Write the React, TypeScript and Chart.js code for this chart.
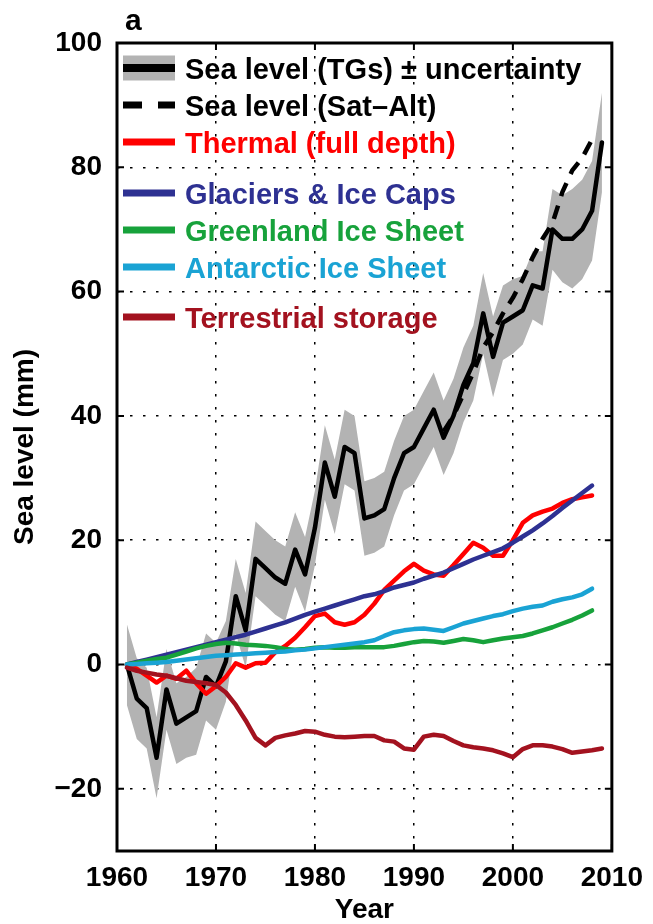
import React, { useEffect, useRef } from 'react';
import { Chart, registerables } from 'chart.js';

Chart.register(...registerables);

// ---------- data ----------
const YEARS = [
  1961, 1962, 1963, 1964, 1965, 1966, 1967, 1968, 1969, 1970,
  1971, 1972, 1973, 1974, 1975, 1976, 1977, 1978, 1979, 1980,
  1981, 1982, 1983, 1984, 1985, 1986, 1987, 1988, 1989, 1990,
  1991, 1992, 1993, 1994, 1995, 1996, 1997, 1998, 1999, 2000,
  2001, 2002, 2003, 2004, 2005, 2006, 2007, 2008,
];
const YEARS_EXT = [...YEARS, 2009];
const SAT_YEARS = [1993, 1994, 1995, 1996, 1997, 1998, 1999, 2000, 2001, 2002, 2003, 2004, 2005, 2006, 2007, 2008];

const SEA_LEVEL_TG = [
  0, -5.5, -7, -15, -4, -9.5, -8.5, -7.5, -2, -3.5,
  0.5, 11, 5.5, 17, 15.5, 14, 13, 18.5, 14.5, 22,
  32.5, 27, 35, 34, 23.5, 24, 25, 30, 34, 35,
  38, 41, 36.5, 40, 45, 48.5, 56.5, 49.5, 55, 56,
  57, 61, 60.5, 70, 68.5, 68.5, 70, 73, 84,
];
const SEA_LEVEL_TG_UNC = [
  6.5, 6.5, 6.5, 6.5, 6.5, 6.5, 6.5, 7, 7, 7,
  6.5, 6, 6, 6, 6, 6, 6, 6, 6, 6,
  6, 6, 6, 6, 6, 6, 6, 6, 6, 6,
  6, 6, 6, 6, 6, 6, 6.5, 6.5, 6, 6,
  5.5, 5.5, 6, 6.5, 7, 8, 8, 8, 8,
];
const SEA_LEVEL_SAT = [37.5, 40, 43.5, 47, 51, 53.5, 56.5, 59, 62, 65.5, 68.5, 71, 76, 79.5, 81.5, 84.5];

const THERMAL = [
  0, -0.7, -1.8, -2.9, -1.8, -2.3, -1, -3, -4.7, -3.5,
  -2, 0.2, -0.5, 0.2, 0.3, 2, 3, 4.3, 6, 7.8,
  8.2, 6.8, 6.4, 6.8, 8, 9.8, 12, 13.5, 15, 16.2,
  15.1, 14.5, 14.3, 16, 17.8, 19.6, 18.8, 17.5, 17.5, 20,
  22.8, 24, 24.6, 25.1, 26, 26.6, 26.9, 27.2,
];
const GLACIERS = [
  0, 0.4, 0.8, 1.2, 1.6, 2, 2.4, 2.8, 3.2, 3.6,
  4, 4.4, 4.8, 5.3, 5.8, 6.3, 6.8, 7.4, 8, 8.5,
  9, 9.5, 10, 10.5, 11, 11.3, 11.8, 12.4, 12.8, 13.2,
  13.8, 14.3, 14.8, 15.5, 16.2, 16.9, 17.5, 18.1, 18.7, 19.6,
  20.6, 21.6, 22.7, 23.9, 25.2, 26.4, 27.6, 28.8,
];
const GREENLAND = [
  0, 0.3, 0.6, 0.9, 1.1, 1.6, 2.1, 2.6, 3, 3.3,
  3.5, 3.4, 3.2, 3.1, 3, 2.8, 2.5, 2.4, 2.5, 2.7,
  2.8, 2.7, 2.7, 2.8, 2.8, 2.8, 2.8, 3, 3.3, 3.6,
  3.8, 3.7, 3.5, 3.8, 4.1, 3.9, 3.6, 3.9, 4.2, 4.4,
  4.6, 5, 5.5, 6, 6.6, 7.2, 7.9, 8.7,
];
const ANTARCTIC = [
  0, 0.1, 0.2, 0.3, 0.4, 0.6, 0.8, 1, 1.2, 1.4,
  1.5, 1.6, 1.7, 1.8, 1.9, 2, 2.1, 2.3, 2.4, 2.6,
  2.8, 3, 3.2, 3.4, 3.6, 3.9, 4.6, 5.2, 5.5, 5.7,
  5.8, 5.6, 5.4, 6, 6.6, 7, 7.4, 7.8, 8.1, 8.6,
  9, 9.3, 9.5, 10.1, 10.5, 10.8, 11.3, 12.2,
];
const TERRESTRIAL = [
  -0.5, -1, -1.3, -1.6, -1.8, -2.2, -2.6, -2.8, -3, -3.3,
  -4.5, -6.5, -9, -11.8, -13, -11.8, -11.4, -11.1, -10.7, -10.8,
  -11.3, -11.6, -11.7, -11.6, -11.5, -11.5, -12.2, -12.4, -13.5, -13.7,
  -11.6, -11.3, -11.5, -12.3, -13, -13.3, -13.5, -13.8, -14.3, -14.9,
  -13.6, -13, -13, -13.2, -13.6, -14.2, -14, -13.8, -13.5,
];

const X_TICKS = [1960, 1970, 1980, 1990, 2000, 2010];
const Y_TICKS = [-20, 0, 20, 40, 60, 80, 100];

const LEGEND_LABELS = [
  'Sea level (TGs) \u00b1 uncertainty',
  'Sea level (Sat\u2013Alt)',
  'Thermal (full depth)',
  'Glaciers & Ice Caps',
  'Greenland Ice Sheet',
  'Antarctic Ice Sheet',
  'Terrestrial storage',
];

// ---------- styles ----------
const FONT = '"Liberation Sans", Arial, Helvetica, sans-serif';
const C_BLACK = '#000000';
const C_GRAY = '#b3b3b3';
const C_RED = '#ff0000';
const C_BLUE = '#2e3192';
const C_GREEN = '#17a23b';
const C_CYAN = '#1aa3d4';
const C_DARKRED = '#a3121f';
const LEGEND_COLORS = [C_BLACK, C_BLACK, C_RED, C_BLUE, C_GREEN, C_CYAN, C_DARKRED];
const LEGEND_ROW_Y = [68, 105, 142, 193, 230, 267, 317];

const pts = (xs: number[], ys: number[]) => ys.map((y, i) => ({ x: xs[i], y }));

const decorPlugin = {
  id: 'decor',
  afterDraw(chart: any) {
    const ctx = chart.ctx;
    const { left, right, top, bottom } = chart.chartArea;
    const xs = chart.scales.x;
    const ys = chart.scales.y;
    ctx.save();
    // inner tick marks
    ctx.strokeStyle = '#000';
    ctx.lineWidth = 2;
    ctx.setLineDash([]);
    const tl = 7;
    X_TICKS.forEach((v) => {
      const px = xs.getPixelForValue(v);
      ctx.beginPath();
      ctx.moveTo(px, bottom);
      ctx.lineTo(px, bottom - tl);
      ctx.moveTo(px, top);
      ctx.lineTo(px, top + tl);
      ctx.stroke();
    });
    Y_TICKS.forEach((v) => {
      const py = ys.getPixelForValue(v);
      ctx.beginPath();
      ctx.moveTo(left, py);
      ctx.lineTo(left + tl, py);
      ctx.moveTo(right, py);
      ctx.lineTo(right - tl, py);
      ctx.stroke();
    });
    // box
    ctx.lineWidth = 3;
    ctx.strokeRect(left, top, right - left, bottom - top);

    // legend
    const x0 = 123;
    const x1 = 175;
    const tx = 185;
    ctx.font = `bold 29px ${FONT}`;
    ctx.textBaseline = 'alphabetic';
    ctx.textAlign = 'left';
    LEGEND_LABELS.forEach((label, i) => {
      const y = LEGEND_ROW_Y[i];
      ctx.lineCap = 'butt';
      if (i === 0) {
        ctx.fillStyle = C_GRAY;
        ctx.fillRect(x0, y - 12.5, x1 - x0, 25);
        ctx.strokeStyle = C_BLACK;
        ctx.lineWidth = 8;
        ctx.beginPath();
        ctx.moveTo(x0, y);
        ctx.lineTo(x1, y);
        ctx.stroke();
      } else if (i === 1) {
        ctx.strokeStyle = C_BLACK;
        ctx.lineWidth = 7;
        ctx.beginPath();
        ctx.moveTo(x0, y);
        ctx.lineTo(x0 + 19, y);
        ctx.moveTo(x1 - 17, y);
        ctx.lineTo(x1, y);
        ctx.stroke();
      } else {
        ctx.strokeStyle = LEGEND_COLORS[i];
        ctx.lineWidth = 7;
        ctx.beginPath();
        ctx.moveTo(x0, y);
        ctx.lineTo(x1, y);
        ctx.stroke();
      }
      ctx.fillStyle = LEGEND_COLORS[i];
      ctx.fillText(label, tx, y + 10.5);
    });

    // panel letter
    ctx.fillStyle = '#000';
    ctx.font = `bold 30px ${FONT}`;
    ctx.fillText('a', 125, 30);
    ctx.restore();
  },
};

export default function App() {
  const ref = useRef<HTMLCanvasElement>(null);

  useEffect(() => {
    const canvas = ref.current;
    if (!canvas) return;
    const lineBase = {
      fill: false,
      pointRadius: 0,
      pointHoverRadius: 0,
      tension: 0,
      borderWidth: 4.5,
      borderJoinStyle: 'round',
      borderCapStyle: 'round',
    };
    const chart = new Chart(canvas, {
      type: 'line',
      data: {
        datasets: [
          {
            ...lineBase,
            label: 'upper',
            data: pts(YEARS_EXT, SEA_LEVEL_TG.map((v, i) => v + SEA_LEVEL_TG_UNC[i])),
            borderWidth: 0,
            borderColor: 'rgba(0,0,0,0)',
            backgroundColor: C_GRAY,
            fill: '+1',
            order: 10,
          },
          {
            ...lineBase,
            label: 'lower',
            data: pts(YEARS_EXT, SEA_LEVEL_TG.map((v, i) => v - SEA_LEVEL_TG_UNC[i])),
            borderWidth: 0,
            borderColor: 'rgba(0,0,0,0)',
            order: 9,
          },
          { ...lineBase, label: LEGEND_LABELS[0], data: pts(YEARS_EXT, SEA_LEVEL_TG), borderColor: C_BLACK, order: 8 },
          {
            ...lineBase,
            label: LEGEND_LABELS[1],
            data: pts(SAT_YEARS, SEA_LEVEL_SAT),
            borderColor: C_BLACK,
            borderDash: [14, 10],
            borderCapStyle: 'butt',
            order: 7,
          },
          { ...lineBase, label: LEGEND_LABELS[2], data: pts(YEARS, THERMAL), borderColor: C_RED, order: 6 },
          { ...lineBase, label: LEGEND_LABELS[3], data: pts(YEARS, GLACIERS), borderColor: C_BLUE, order: 5 },
          { ...lineBase, label: LEGEND_LABELS[4], data: pts(YEARS, GREENLAND), borderColor: C_GREEN, order: 4 },
          { ...lineBase, label: LEGEND_LABELS[5], data: pts(YEARS, ANTARCTIC), borderColor: C_CYAN, order: 3 },
          { ...lineBase, label: LEGEND_LABELS[6], data: pts(YEARS_EXT, TERRESTRIAL), borderColor: C_DARKRED, order: 2 },
        ] as any,
      },
      options: {
        responsive: false,
        animation: false,
        events: [],
        layout: { padding: { left: 0, top: 43, right: 36, bottom: 0 } },
        plugins: {
          legend: { display: false },
          tooltip: { enabled: false },
          title: { display: false },
        },
        scales: {
          x: {
            type: 'linear',
            min: 1960,
            max: 2010,
            afterBuildTicks: (scale: any) => {
              scale.ticks = X_TICKS.map((v) => ({ value: v }));
            },
            afterFit: (scale: any) => {
              scale.height = 73;
            },
            ticks: {
              autoSkip: false,
              maxRotation: 0,
              padding: 10,
              color: '#000',
              font: { family: FONT, size: 28, weight: 'bold' },
              callback: (v: any) => String(v),
            },
            grid: { color: '#000', lineWidth: 1.5, drawTicks: false },
            border: { display: false, dash: [2.5, 10.5] },
            title: {
              display: true,
              text: 'Year',
              color: '#000',
              font: { family: FONT, size: 28, weight: 'bold', lineHeight: 1 },
              padding: { top: 0, bottom: 0 },
            },
          },
          y: {
            type: 'linear',
            min: -30,
            max: 100,
            afterBuildTicks: (scale: any) => {
              scale.ticks = Y_TICKS.map((v) => ({ value: v }));
            },
            afterFit: (scale: any) => {
              scale.width = 117;
            },
            ticks: {
              autoSkip: false,
              padding: 15,
              color: '#000',
              font: { family: FONT, size: 28, weight: 'bold' },
              callback: (v: any) => (v < 0 ? '\u2212' + Math.abs(v) : String(v)),
            },
            grid: { color: '#000', lineWidth: 1.5, drawTicks: false },
            border: { display: false, dash: [2.5, 10.5] },
            title: {
              display: true,
              text: 'Sea level (mm)',
              color: '#000',
              font: { family: FONT, size: 28, weight: 'bold', lineHeight: 1 },
              padding: { top: 11, bottom: 0 },
            },
          },
        },
      } as any,
      plugins: [decorPlugin],
    });
    return () => chart.destroy();
  }, []);

  return (
    <div style={{ position: 'fixed', left: 0, top: 0, width: 653, height: 924, background: '#fff' }}>
      <canvas ref={ref} width={653} height={924} style={{ width: 653, height: 924, display: 'block' }} />
    </div>
  );
}
